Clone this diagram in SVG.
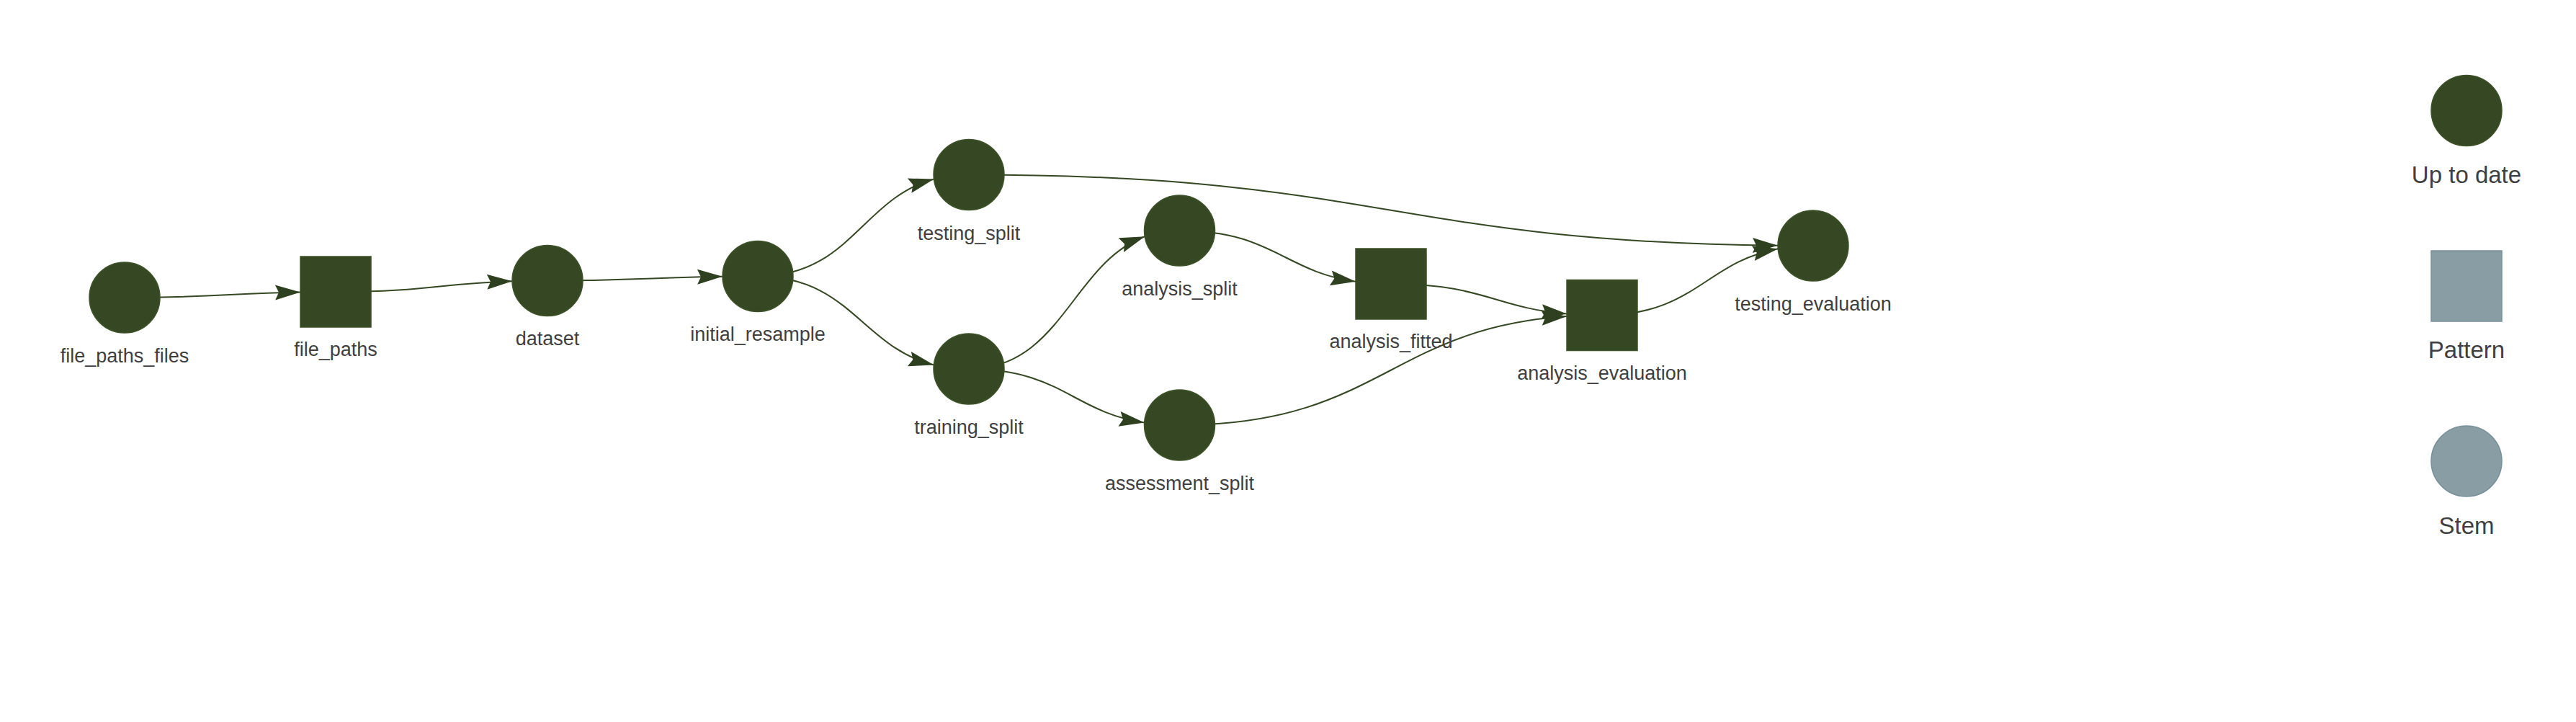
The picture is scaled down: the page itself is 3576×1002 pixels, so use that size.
<svg xmlns="http://www.w3.org/2000/svg" width="3576" height="1002" viewBox="0 0 3576 1002">
<style>
.edge{fill:none;stroke:#354823;stroke-width:2;marker-end:url(#arrow)}
.done{fill:#354823;stroke:#3d5229;stroke-width:1.5}
.grey{fill:#899DA4;stroke:#78909a;stroke-width:1.5}
.lbl{font-family:"Liberation Sans",Arial,sans-serif;font-size:27px;fill:#3f3f3f;text-anchor:middle}
.leg{font-family:"Liberation Sans",Arial,sans-serif;font-size:33px;fill:#3f3f3f;text-anchor:middle}
</style>
<defs>
<marker id="arrow" markerUnits="userSpaceOnUse" viewBox="-36 -12 37 24" markerWidth="37" markerHeight="24" refX="0" refY="0" orient="auto">
<path d="M0,0 L-35,-10.5 L-30,0 L-35,10.5 Z" fill="#2e401f"/>
</marker>
</defs>
<rect width="3576" height="1002" fill="#ffffff"/>
<g id="connectors">
<path class="edge" d="M173,413 C301,413 317.2,406.9 417,405.4"/>
<path class="edge" d="M466,405 C594.5,405 610.7,393.2 711,390.2"/>
<path class="edge" d="M760,389.5 C887.5,389.5 903.7,384.9 1003,383.8"/>
<path class="edge" d="M1052,383.5 C1180.2,383.5 1196.2,275.6 1296.4,248.6"/>
<path class="edge" d="M1052,383.5 C1180.2,383.5 1196.2,481.9 1296.4,506.5"/>
<path class="edge" d="M1345,242.5 C1914.2,242.5 1930.5,335.4 2468,340.8"/>
<path class="edge" d="M1345,512 C1473.1,512 1489,364.8 1589.2,328.2"/>
<path class="edge" d="M1345,512 C1472.8,512 1488.9,571.6 1588.6,586.6"/>
<path class="edge" d="M1637.5,320 C1765.8,320 1781.9,376.6 1882,390.8"/>
<path class="edge" d="M1931,394 C2059,394 2075.2,427.2 2175,435.6"/>
<path class="edge" d="M1637.5,590 C1913.5,590 1929.7,455 2175,439"/>
<path class="edge" d="M2224,437.5 C2352.1,437.5 2368.2,363.7 2468.2,345.2"/>
</g>
<g id="file_paths_files"><circle class="done" cx="173" cy="413" r="49"/><text class="lbl" x="173" y="503">file_paths_files</text></g>
<g id="file_paths"><rect class="done" x="417" y="356" width="98" height="98"/><text class="lbl" x="466" y="494">file_paths</text></g>
<g id="dataset"><circle class="done" cx="760" cy="389.5" r="49"/><text class="lbl" x="760" y="479">dataset</text></g>
<g id="initial_resample"><circle class="done" cx="1052" cy="383.5" r="49"/><text class="lbl" x="1052" y="473">initial_resample</text></g>
<g id="testing_split"><circle class="done" cx="1345" cy="242.5" r="49"/><text class="lbl" x="1345" y="333">testing_split</text></g>
<g id="training_split"><circle class="done" cx="1345" cy="512" r="49"/><text class="lbl" x="1345" y="602">training_split</text></g>
<g id="analysis_split"><circle class="done" cx="1637.5" cy="320" r="49"/><text class="lbl" x="1637.5" y="410">analysis_split</text></g>
<g id="assessment_split"><circle class="done" cx="1637.5" cy="590" r="49"/><text class="lbl" x="1637.5" y="680">assessment_split</text></g>
<g id="analysis_fitted"><rect class="done" x="1882" y="345" width="98" height="98"/><text class="lbl" x="1931" y="483">analysis_fitted</text></g>
<g id="analysis_evaluation"><rect class="done" x="2175" y="388.5" width="98" height="98"/><text class="lbl" x="2224" y="527">analysis_evaluation</text></g>
<g id="testing_evaluation"><circle class="done" cx="2517" cy="341" r="49"/><text class="lbl" x="2517" y="431">testing_evaluation</text></g>
<g id="legend_up_to_date"><circle class="done" cx="3424" cy="153.5" r="49"/><text class="leg" x="3424" y="254">Up to date</text></g>
<g id="legend_pattern"><rect class="grey" x="3375" y="348" width="98" height="98"/><text class="leg" x="3424" y="497">Pattern</text></g>
<g id="legend_stem"><circle class="grey" cx="3424" cy="640" r="49"/><text class="leg" x="3424" y="741">Stem</text></g>
</svg>
